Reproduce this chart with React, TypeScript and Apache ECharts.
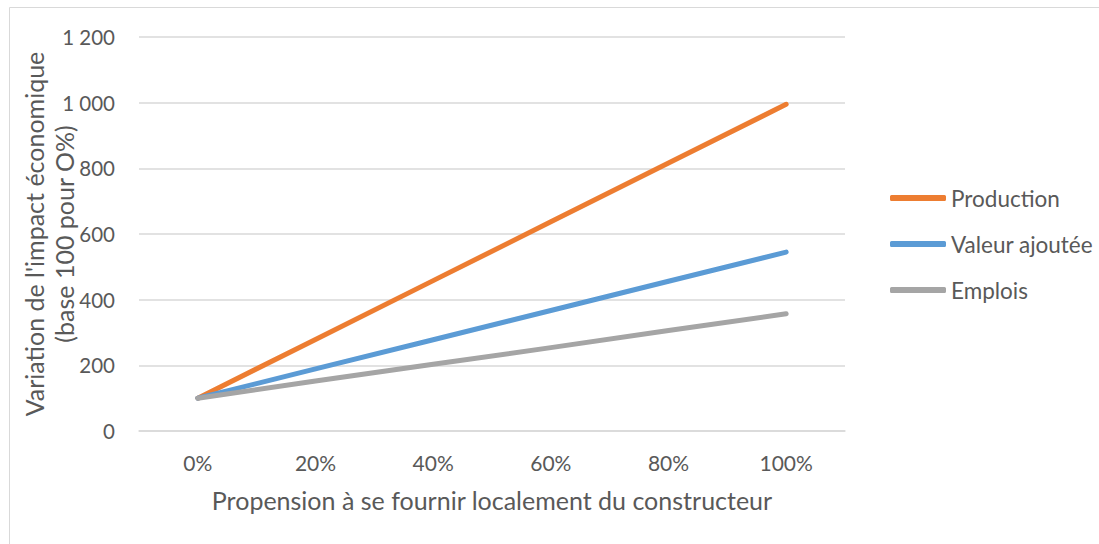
import React, { useEffect, useRef } from "react";
import * as echarts from "echarts";

const categories = ["0%", "20%", "40%", "60%", "80%", "100%"];
const production = [100, 279, 458, 637, 816, 995];
const valeurAjoutee = [100, 189, 278, 367, 456, 545];
const emplois = [100, 152, 203, 254, 306, 357];
const seriesNames = ["Production", "Valeur ajoutée", "Emplois"];
const colors = ["#ED7D31", "#5B9BD5", "#A5A5A5"];

const FONT = "Lato";
const TXT = "#595959";

export default function App() {
  const ref = useRef<HTMLDivElement>(null);
  useEffect(() => {
    if (!ref.current) return;
    const chart = echarts.init(ref.current, undefined, { renderer: "svg" });
    const data = [production, valeurAjoutee, emplois];
    chart.setOption({
      animation: false,
      backgroundColor: "#ffffff",
      textStyle: { fontFamily: FONT },
      graphic: [
        {
          type: "rect",
          shape: { x: 9.5, y: 7.5, width: 1200, height: 700 },
          style: { fill: "none", stroke: "#d9d9d9", lineWidth: 1 },
          silent: true,
        },
      ],
      grid: { left: 139, top: 37, width: 706, height: 394, containLabel: false, outerBoundsMode: "none" },
      legend: {
        orient: "vertical",
        left: 890,
        top: 185,
        padding: 0,
        itemWidth: 56,
        itemHeight: 6,
        itemGap: 20,
        icon: "roundRect",
        data: seriesNames,
        textStyle: { color: TXT, fontSize: 22.5, fontFamily: FONT, lineHeight: 26 },
      },
      xAxis: {
        type: "category",
        data: categories,
        boundaryGap: true,
        axisLine: { show: true, lineStyle: { color: "#d9d9d9", width: 1.5 } },
        axisTick: { show: false },
        axisLabel: { color: TXT, fontSize: 21, margin: 21, fontFamily: FONT },
        name: "Propension à se fournir localement du constructeur",
        nameLocation: "middle",
        nameGap: 56,
        nameMoveOverlap: false,
        nameTextStyle: { color: TXT, fontSize: 25, fontFamily: FONT },
      },
      yAxis: {
        type: "value",
        min: 0,
        max: 1200,
        interval: 200,
        axisLine: { show: false },
        axisTick: { show: false },
        splitLine: { lineStyle: { color: "#d9d9d9", width: 1.5 } },
        axisLabel: {
          color: TXT,
          fontSize: 20.5,
          margin: 24,
          fontFamily: FONT,
          formatter: (v: number) => String(v).replace(/\B(?=(\d{3})+(?!\d))/g, " "),
        },
        name: "Variation de l'impact économique\n(base 100 pour O%)",
        nameLocation: "middle",
        nameGap: 60,
        nameMoveOverlap: false,
        nameTextStyle: { color: TXT, fontSize: 25, fontFamily: FONT, lineHeight: 30 },
      },
      series: seriesNames.map((n, i) => ({
        name: n,
        type: "line",
        data: data[i],
        symbol: "none",
        showSymbol: false,
        color: colors[i],
        lineStyle: { color: colors[i], width: 5, cap: "round", join: "round" },
      })),
    });
    return () => chart.dispose();
  }, []);
  return (
    <div
      ref={ref}
      style={{ position: "fixed", left: 0, top: 0, width: 1099, height: 544 }}
    />
  );
}
